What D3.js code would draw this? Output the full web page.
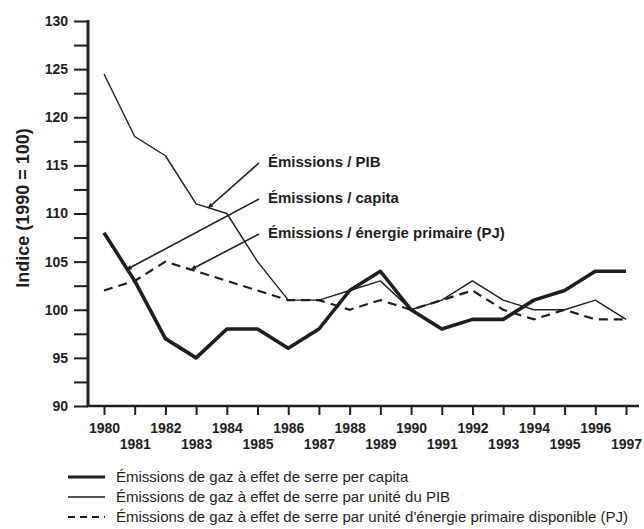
<!DOCTYPE html>
<html><head><meta charset="utf-8">
<script src="https://cdn.jsdelivr.net/npm/d3@7"></script>
<style>body{margin:0;background:#fff}svg{display:block}</style>
</head><body>
<svg id="c" width="644" height="529"></svg>
<script>
const years = [1980,1981,1982,1983,1984,1985,1986,1987,1988,1989,1990,1991,1992,1993,1994,1995,1996,1997];
const perCapita = [108,103,97,95,98,98,96,98,102,104,100,98,99,99,101,102,104,104];
const perPIB = [124.5,118,116,111,110,105,101,101,102,103,100,101,103,101,100,100,101,99];
const perEnergie = [102,103,105,104,103,102,101,101,100,101,100,101,102,100,99,100,99,99];
const yTicks = [90,95,100,105,110,115,120,125,130];
const yLabel = "Indice (1990 = 100)";
const annotations = ["Émissions / PIB","Émissions / capita","Émissions / énergie primaire (PJ)"];
const legendLabels = [
  "Émissions de gaz à effet de serre per capita",
  "Émissions de gaz à effet de serre par unité du PIB",
  "Émissions de gaz à effet de serre par unité d'énergie primaire disponible (PJ)"
];

const svg = d3.select("#c");
const x = d3.scaleLinear().domain([1980,1997]).range([104,626]);
const y = d3.scaleLinear().domain([90,130]).range([406,21]);
const ink = "#1e1e1e";
const font = "'Liberation Sans', Arial, sans-serif";

svg.append("defs").append("marker").attr("id","arr").attr("viewBox","0 0 10 10")
  .attr("refX",9).attr("refY",5).attr("markerWidth",7).attr("markerHeight",5)
  .attr("orient","auto").attr("markerUnits","userSpaceOnUse")
  .append("path").attr("d","M0,0L10,5L0,10z").attr("fill",ink);

// Y axis
const yAxis = d3.axisLeft(y).tickValues(d3.range(90,130.01,2.5)).tickSize(14)
  .tickFormat(d => yTicks.includes(d) ? d : "").tickPadding(6);
const gy = svg.append("g").attr("transform","translate(88,0)").call(yAxis);
gy.select(".domain").attr("stroke",ink).attr("stroke-width",3).attr("d","M0,20V407");
gy.selectAll(".tick line").attr("stroke",ink).attr("stroke-width",2);
gy.selectAll(".tick text").attr("font-family",font).attr("font-weight","bold")
  .attr("font-size",14).attr("fill",ink);

// X axis
const xAxis = d3.axisBottom(x).tickValues(years).tickSize(9).tickFormat("");
const gx = svg.append("g").attr("transform","translate(0,406)").call(xAxis);
gx.select(".domain").attr("stroke",ink).attr("stroke-width",2.5).attr("d","M87,0H639");
gx.selectAll(".tick line").attr("stroke",ink).attr("stroke-width",2);
gx.selectAll(".tick").append("text")
  .attr("y",(d,i)=> i%2===0 ? 27 : 43)
  .attr("text-anchor","middle").attr("font-family",font).attr("font-weight","bold")
  .attr("font-size",14).attr("fill",ink).text(d=>d);

// Y label
svg.append("text").attr("transform","translate(29,208) rotate(-90)")
  .attr("text-anchor","middle").attr("font-family",font).attr("font-weight","bold")
  .attr("font-size",18).attr("fill",ink).text(yLabel);

// lines
const line = vals => d3.line().x((d,i)=>x(years[i])).y(d=>y(d))(vals);
svg.append("path").attr("d",line(perEnergie)).attr("fill","none").attr("stroke",ink)
  .attr("stroke-width",2.2).attr("stroke-dasharray","9,6");
svg.append("path").attr("d",line(perPIB)).attr("fill","none").attr("stroke",ink)
  .attr("stroke-width",1.4).attr("stroke-linejoin","round");
svg.append("path").attr("d",line(perCapita)).attr("fill","none").attr("stroke",ink)
  .attr("stroke-width",3.6).attr("stroke-linejoin","round");

// annotations
const annTargets = [
  {yr:1983.4, v: 110.6},
  {yr:1980.75, v: 104.2},
  {yr:1982.85, v: 104.2}
];
const annY = [162,198,233];
annotations.forEach((t,i)=>{
  svg.append("line").attr("x1",259).attr("y1",annY[i]+1)
    .attr("x2",x(annTargets[i].yr)).attr("y2",y(annTargets[i].v))
    .attr("stroke",ink).attr("stroke-width",1.6).attr("marker-end","url(#arr)");
  svg.append("text").attr("x",268).attr("y",annY[i]+5).attr("font-family",font)
    .attr("font-weight","bold").attr("font-size",15).attr("fill",ink).text(t);
});

// legend
const legY = [477,497,517];
const styles = [{w:3.2,d:null},{w:1.3,d:null},{w:2,d:"7,5"}];
legendLabels.forEach((t,i)=>{
  svg.append("line").attr("x1",68).attr("x2",105).attr("y1",legY[i]).attr("y2",legY[i])
    .attr("stroke",ink).attr("stroke-width",styles[i].w).attr("stroke-dasharray",styles[i].d);
  svg.append("text").attr("x",116).attr("y",legY[i]+5).attr("font-family",font)
    .attr("font-size",15).attr("fill",ink).text(t);
});
</script>
</body></html>
